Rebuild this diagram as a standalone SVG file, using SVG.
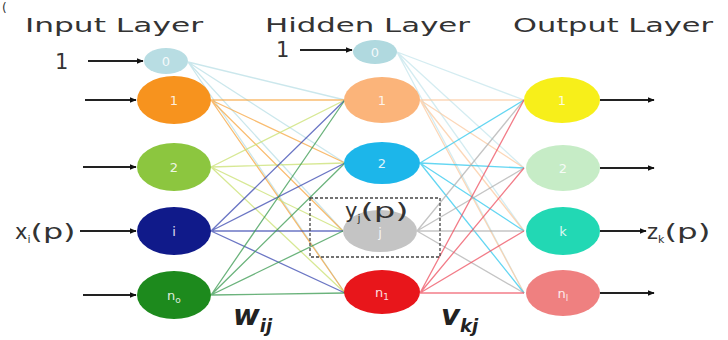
<svg xmlns="http://www.w3.org/2000/svg" width="728" height="340" viewBox="0 0 728 340">
<defs>
<marker id="ah" viewBox="0 0 10 10" refX="9" refY="5" markerWidth="7" markerHeight="7" markerUnits="userSpaceOnUse" orient="auto"><path d="M0,1 L10,5 L0,9 z" fill="#111"/></marker>
<style>
.t{font-family:"DejaVu Sans",Verdana,sans-serif;fill:#333}
.title{font-size:20px}
.lab{font-family:"DejaVu Sans",sans-serif;font-size:13px;fill:#fff;text-anchor:middle;opacity:0.85}
.arr{stroke:#222;stroke-width:2;fill:none;marker-end:url(#ah)}
.c{stroke-width:1.3;fill:none;opacity:0.75}
.w{font-family:"DejaVu Sans",Verdana,sans-serif;font-style:italic;font-weight:bold;fill:#222}
</style>
</defs>
<rect width="728" height="340" fill="#fff"/>
<text class="t" x="2" y="12" font-size="12">(</text>
<text class="t title" x="25" y="32" textLength="178" lengthAdjust="spacingAndGlyphs">Input Layer</text>
<text class="t title" x="265" y="32" textLength="205" lengthAdjust="spacingAndGlyphs">Hidden Layer</text>
<text class="t title" x="513" y="32" textLength="200" lengthAdjust="spacingAndGlyphs">Output Layer</text>

<g id="connectors">
<!-- input to hidden -->
<g stroke="#b9dfe6" class="c"><path d="M188,62 L345,100 M188,62 L345,163 M188,62 L343,231 M188,62 L345,293"/></g>
<g stroke="#f7a540" class="c"><path d="M211,100 L345,100 M211,100 L345,163 M211,100 L343,231 M211,100 L345,293"/></g>
<g stroke="#c9e070" class="c"><path d="M211,167 L345,100 M211,167 L345,163 M211,167 L343,231 M211,167 L345,293"/></g>
<g stroke="#3a48b0" class="c"><path d="M211,231 L345,100 M211,231 L345,163 M211,231 L343,231 M211,231 L345,293"/></g>
<g stroke="#3a9a50" class="c"><path d="M211,295 L345,100 M211,295 L345,163 M211,295 L343,231 M211,295 L345,293"/></g>
<!-- hidden to output -->
<g stroke="#c6e6ec" class="c"><path d="M397,52 L524,100 M397,52 L524,168 M397,52 L524,231 M397,52 L524,293"/></g>
<g stroke="#fbc9a0" class="c"><path d="M420,100 L524,100 M420,100 L524,168 M420,100 L524,231 M420,100 L524,293"/></g>
<g stroke="#30c8ee" class="c"><path d="M420,163 L524,100 M420,163 L524,168 M420,163 L524,231 M420,163 L524,293"/></g>
<g stroke="#b0b0b0" class="c"><path d="M417,231 L524,100 M417,231 L524,168 M417,231 L524,231 M417,231 L524,293"/></g>
<g stroke="#ee5060" class="c"><path d="M420,293 L524,100 M420,293 L524,168 M420,293 L524,231 M420,293 L524,293"/></g>
<!-- arrows -->
<path class="arr" d="M88,61 L143,61"/>
<path class="arr" d="M85,100 L136,100"/>
<path class="arr" d="M83,167 L136,167"/>
<path class="arr" d="M80,231 L136,231"/>
<path class="arr" d="M83,295 L136,295"/>
<path class="arr" d="M300,50 L352,50"/>
<path class="arr" d="M600,100 L654,100"/>
<path class="arr" d="M600,168 L654,168"/>
<path class="arr" d="M600,231 L646,231"/>
<path class="arr" d="M600,293 L654,293"/>
</g>

<text class="t" x="55" y="69" font-size="21">1</text>
<text class="t" x="276" y="57" font-size="21">1</text>
<text class="t" x="15" y="239" font-size="21">x<tspan font-size="11" dy="4">i</tspan><tspan dy="-4" textLength="45" lengthAdjust="spacingAndGlyphs">(p)</tspan></text>
<text class="t" x="647" y="239" font-size="21">z<tspan font-size="11" dy="4">k</tspan><tspan dy="-4" textLength="46" lengthAdjust="spacingAndGlyphs">(p)</tspan></text>

<g id="in0"><ellipse cx="166" cy="61" rx="22" ry="13" fill="#b8dde3"/><text class="lab" x="166" y="66">0</text></g>
<g id="in1"><ellipse cx="174" cy="100" rx="37" ry="24" fill="#f7931e"/><text class="lab" x="174" y="105">1</text></g>
<g id="in2"><ellipse cx="174" cy="167" rx="37" ry="24" fill="#8cc63f"/><text class="lab" x="174" y="172">2</text></g>
<g id="ini"><ellipse cx="174" cy="231" rx="37" ry="24" fill="#101a8a"/><text class="lab" x="174" y="236">i</text></g>
<g id="inn0"><ellipse cx="174" cy="295" rx="37" ry="24" fill="#1d8a1d"/><text class="lab" x="174" y="300">n<tspan font-size="9" dy="3">o</tspan></text></g>

<g id="h0"><ellipse cx="375" cy="52" rx="22" ry="12" fill="#b0d9df"/><text class="lab" x="375" y="57">0</text></g>
<g id="h1"><ellipse cx="382" cy="100" rx="38" ry="23" fill="#fbb47a"/><text class="lab" x="382" y="105">1</text></g>
<g id="h2"><ellipse cx="382" cy="163" rx="38" ry="21" fill="#1cb6ea"/><text class="lab" x="382" y="168">2</text></g>
<g id="hj"><ellipse cx="380" cy="231" rx="37" ry="21" fill="#c4c4c4"/><text class="lab" x="380" y="237">j</text></g>
<g id="hn1"><ellipse cx="382" cy="292" rx="38" ry="22" fill="#e8161b"/><text class="lab" x="382" y="297">n<tspan font-size="9" dy="3">1</tspan></text></g>

<g id="box">
<rect x="310" y="198" width="130" height="59" fill="none" stroke="#444" stroke-width="1.3" stroke-dasharray="3,2"/>
<text class="t" x="345" y="218" font-size="21">y<tspan font-size="11" dy="4">j</tspan><tspan dy="-4" textLength="48" lengthAdjust="spacingAndGlyphs">(p)</tspan></text>
</g>

<g id="o1"><ellipse cx="562" cy="100" rx="38" ry="23" fill="#f7ef1a"/><text class="lab" x="562" y="105">1</text></g>
<g id="o2"><ellipse cx="563" cy="168" rx="37" ry="23" fill="#c6ecc6"/><text class="lab" x="563" y="173">2</text></g>
<g id="ok"><ellipse cx="563" cy="231" rx="37" ry="24" fill="#22d8b4"/><text class="lab" x="563" y="236">k</text></g>
<g id="onl"><ellipse cx="563" cy="293" rx="37" ry="23" fill="#ef8080"/><text class="lab" x="563" y="298">n<tspan font-size="9" dy="3">l</tspan></text></g>

<text class="w" x="233" y="325" font-size="29">w<tspan font-size="18" dy="7">ij</tspan></text>
<text class="w" x="441" y="325" font-size="29">v<tspan font-size="18" dy="7">kj</tspan></text>
</svg>
